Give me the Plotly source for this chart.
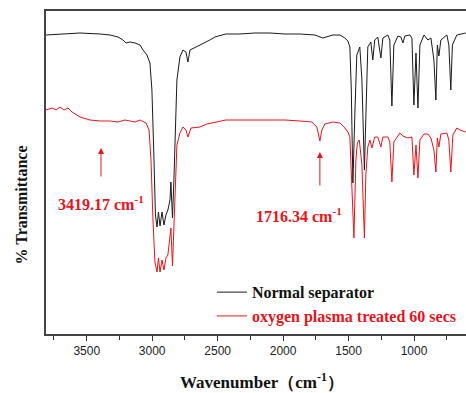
import plotly.graph_objects as go

# Wavenumber (cm-1) and relative transmittance (arbitrary units)
normal_wn = [3811, 3704, 3551, 3398, 3322, 3261, 3223, 3200, 3169, 3131, 3093, 3070, 3040, 3017,
             3002, 2986, 2975, 2963, 2952, 2940, 2925, 2910, 2895, 2880, 2864, 2857, 2845, 2834,
             2822, 2811, 2788, 2765, 2742, 2727, 2711, 2666, 2635, 2597, 2559, 2521, 2437, 2330,
             2215, 2101, 1986, 1871, 1757, 1696, 1620, 1566, 1528, 1505, 1490, 1479, 1467, 1451,
             1437, 1414, 1398, 1379, 1368, 1360, 1353, 1330, 1315, 1300, 1277, 1253, 1238, 1200,
             1185, 1169, 1154, 1123, 1100, 1085, 1070, 1032, 1016, 1001, 985, 970, 955, 924,
             894, 871, 848, 833, 822, 810, 795, 749, 734, 719, 707, 673, 635, 605]
normal_t = [299, 300, 301, 300, 299, 297, 294, 291, 292, 291, 289, 284, 279, 271,
            244, 174, 119, 107, 122, 108, 122, 109, 119, 124, 134, 152, 116, 154,
            214, 254, 277, 284, 282, 272, 284, 287, 289, 291, 294, 297, 300, 300,
            301, 301, 300, 300, 299, 296, 299, 299, 296, 293, 287, 244, 151, 224,
            279, 287, 254, 164, 214, 244, 287, 292, 274, 294, 297, 276, 296, 299,
            294, 228, 289, 298, 297, 291, 298, 299, 296, 229, 281, 226, 289, 299,
            294, 296, 274, 234, 289, 278, 294, 299, 289, 244, 289, 299, 300, 301]

plasma_wn = [3811, 3765, 3734, 3704, 3673, 3643, 3612, 3551, 3475, 3398, 3322, 3261, 3208, 3169,
             3131, 3093, 3047, 3024, 3009, 2994, 2979, 2963, 2952, 2940, 2925, 2910, 2895, 2880,
             2864, 2857, 2845, 2834, 2822, 2811, 2788, 2765, 2742, 2727, 2704, 2635, 2582, 2521,
             2437, 2330, 2215, 2101, 1986, 1871, 1780, 1742, 1719, 1704, 1681, 1620, 1566, 1528,
             1505, 1490, 1479, 1459, 1444, 1433, 1418, 1398, 1379, 1368, 1353, 1337, 1322, 1300,
             1277, 1253, 1238, 1200, 1185, 1169, 1154, 1108, 1085, 1047, 1016, 1001, 985, 970,
             955, 924, 894, 871, 848, 833, 822, 810, 795, 749, 734, 719, 703, 673, 650, 605]
plasma_t = [224, 226, 224, 227, 224, 226, 222, 217, 214, 213, 213, 212, 214, 213,
            212, 214, 211, 204, 174, 114, 72, 62, 76, 62, 74, 64, 76, 79,
            94, 106, 68, 114, 164, 189, 201, 207, 204, 197, 206, 207, 210, 212,
            214, 214, 214, 214, 214, 213, 212, 207, 193, 204, 210, 212, 211, 206,
            202, 197, 164, 96, 174, 191, 194, 169, 96, 159, 187, 194, 186, 197,
            197, 187, 197, 197, 192, 152, 192, 201, 198, 196, 197, 159, 189, 156,
            194, 200, 200, 196, 184, 162, 196, 187, 200, 201, 194, 162, 199, 206, 204, 202]

series_names = ["Normal separator", "oxygen plasma treated 60 secs"]
series_colors = ["#1a1a1a", "#e8141b"]
legend_text_colors = ["#111111", "#e8141b"]

# peak markers: arrow position (wavenumber, head height) and label
peak_labels = ["3419.17 cm<sup>-1</sup>", "1716.34 cm<sup>-1</sup>"]
peak_arrow_wn = [3391, 1719]
peak_arrow_t = [186, 182]
peak_text_wn = [3391, 1875]
peak_text_t = [131, 119]

x_ticks = [3500, 3000, 2500, 2000, 1500, 1000]

fig = go.Figure()
for wn, t, name, col, tcol in [(normal_wn, normal_t, series_names[0], series_colors[0], legend_text_colors[0]),
                               (plasma_wn, plasma_t, series_names[1], series_colors[1], legend_text_colors[1])]:
    fig.add_trace(go.Scatter(
        x=wn, y=t, mode="lines",
        line=dict(color=col, width=1),
        name="<b><span style='color:%s'>%s</span></b>" % (tcol, name),
    ))

for i in range(len(peak_labels)):
    fig.add_annotation(x=peak_arrow_wn[i], y=peak_arrow_t[i], xref="x", yref="y",
                       text="", showarrow=True, arrowhead=2, arrowsize=1.2, arrowwidth=1,
                       arrowcolor="#e8141b", ax=0, ay=30 if i == 0 else 35)
    fig.add_annotation(x=peak_text_wn[i], y=peak_text_t[i], xref="x", yref="y",
                       text="<b>%s</b>" % peak_labels[i], showarrow=False,
                       font=dict(family="Liberation Serif", size=16, color="#e8141b"))

fig.add_annotation(x=0.515, y=-0.145, xref="paper", yref="paper", yanchor="middle",
                   text="<b>Wavenumber（cm<sup>-1</sup>）</b>", showarrow=False,
                   font=dict(family="Liberation Serif", size=17, color="#111"))
fig.add_annotation(x=-0.083, y=0.40, xref="paper", yref="paper", textangle=-90,
                   text="<b>% Transmittance</b>", showarrow=False,
                   font=dict(family="Liberation Serif", size=16, color="#111"))

fig.update_layout(
    width=466, height=393,
    margin=dict(l=46, r=0, t=11, b=59),
    paper_bgcolor="white", plot_bgcolor="white",
    showlegend=True,
    legend=dict(x=0.395, y=0.182, xanchor="left", yanchor="top",
                bgcolor="rgba(0,0,0,0)", font=dict(family="Liberation Serif", size=16, color="#111"),
                tracegroupgap=0, itemwidth=30),
    xaxis=dict(range=[3811, 603], tickvals=x_ticks, ticks="outside", ticklen=5, tickwidth=1,
               tickcolor="#333", showline=True, linecolor="#444", linewidth=1.5, mirror=True,
               showgrid=False, zeroline=False,
               tickfont=dict(family="Liberation Sans", size=12, color="#222"),
               minor=dict(dtick=250, tick0=0, ticks="outside", ticklen=4, tickcolor="#333", showgrid=False)),
    yaxis=dict(range=[0, 323], showticklabels=False, ticks="", showline=True, linecolor="#444",
               linewidth=1.5, mirror=False, showgrid=False, zeroline=False),
)

fig.write_html("out.html")
